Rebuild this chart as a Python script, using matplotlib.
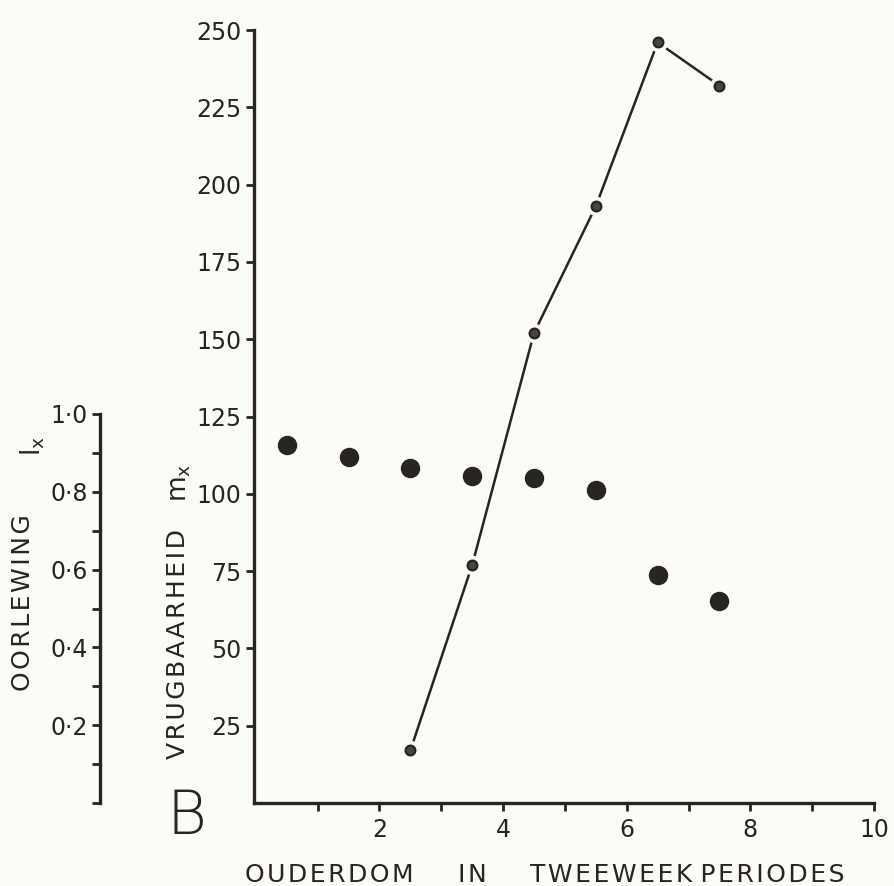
import numpy as np
import matplotlib.pyplot as plt

# data
age_lx = [0.5, 1.5, 2.5, 3.5, 4.5, 5.5, 6.5, 7.5]
survival_lx = [0.92, 0.89, 0.86, 0.84, 0.835, 0.805, 0.585, 0.52]

age_mx = [2.5, 3.5, 4.5, 5.5, 6.5, 7.5]
fecundity_mx = [17, 77, 152, 193, 246, 232]

mx_ticks = [25, 50, 75, 100, 125, 150, 175, 200, 225, 250]
lx_ticks = [0.2, 0.4, 0.6, 0.8, 1.0]
lx_labels = ['0·2', '0·4', '0·6', '0·8', '1·0']
x_ticks = [1, 2, 3, 4, 5, 6, 7, 8, 9, 10]
x_labels = ['', '2', '', '4', '', '6', '', '8', '', '10']

ink = '#2a2420'
bg = '#fcfcf6'
W, H = 894, 886


def spaced(s):
    # slightly wider lettering like the original
    return '\u200a'.join(s)


plt.rcParams['font.family'] = 'DejaVu Sans'
plt.rcParams['text.color'] = ink

fig = plt.figure(figsize=(W / 100, H / 100), dpi=100, facecolor=bg)

# main axes (fecundity mx)
ax = fig.add_axes([254 / W, 83 / H, 620 / W, 773 / H])
ax.set_facecolor('none')
ax.set_xlim(-0.03, 10)
ax.set_ylim(0, 250)
for s in ['top', 'right']:
    ax.spines[s].set_visible(False)
for s in ['left', 'bottom']:
    ax.spines[s].set_linewidth(2.4)
    ax.spines[s].set_color(ink)
ax.set_yticks(mx_ticks)
ax.set_xticks(x_ticks)
ax.set_xticklabels(x_labels)
ax.tick_params(axis='both', colors=ink, width=2, length=6, labelsize=17)
ax.tick_params(axis='y', pad=3)
ax.tick_params(axis='x', pad=5)

ax.plot(age_mx, fecundity_mx, color=ink, lw=1.8, zorder=2)
ax.plot(age_mx, fecundity_mx, 'o', ms=13, color=bg, zorder=3)
ax.plot(age_mx, fecundity_mx, 'o', ms=7, mfc='#4a4440', mec=ink, mew=1.6, zorder=4)

# survival lx on its own scale
ax2 = ax.twinx()
ax2.set_ylim(0, 773 / 389)
ax2.axis('off')
ax2.plot(age_lx, survival_lx, 'o', ms=13, color=ink)

# separate left axis for lx
axl = fig.add_axes([100 / W, 83 / H, 0.0001, 773 / H])
axl.set_facecolor('none')
axl.set_ylim(0, 773 / 389)
for s in ['top', 'right', 'bottom']:
    axl.spines[s].set_visible(False)
axl.spines['left'].set_linewidth(2.4)
axl.spines['left'].set_color(ink)
axl.spines['left'].set_bounds(0, 1)
axl.set_xticks([])
axl.set_yticks(lx_ticks)
axl.set_yticklabels(lx_labels)
axl.set_yticks(np.arange(0, 1.01, 0.1), minor=True)
axl.tick_params(axis='y', which='both', colors=ink, width=2, length=6, labelsize=17, pad=3)

# axis titles
fig.text(23 / W, 1 - 603 / H, spaced('OORLEWING'), rotation=90, fontsize=18,
         ha='center', va='center')
fig.text(33 / W, 1 - 446 / H, r'$\mathregular{l_x}$', rotation=90, fontsize=19,
         ha='center', va='center')
fig.text(178 / W, 1 - 644 / H, spaced('VRUGBAARHEID'), rotation=90, fontsize=18,
         ha='center', va='center')
fig.text(180 / W, 1 - 483 / H, r'$\mathregular{m_x}$', rotation=90, fontsize=19,
         ha='center', va='center')

fig.text(245 / W, 1 - 875 / H, spaced('OUDERDOM'), fontsize=18, ha='left', va='center')
fig.text(458 / W, 1 - 875 / H, spaced('IN'), fontsize=18, ha='left', va='center')
fig.text(530 / W, 1 - 875 / H, spaced('TWEEWEEK') + ' ' + spaced('PERIODES'),
         fontsize=18, ha='left', va='center')

fig.text(186 / W, 1 - 818 / H, 'B', fontsize=44, fontweight='light',
         ha='center', va='center')

fig.savefig('out.png', dpi=100, facecolor=bg)
